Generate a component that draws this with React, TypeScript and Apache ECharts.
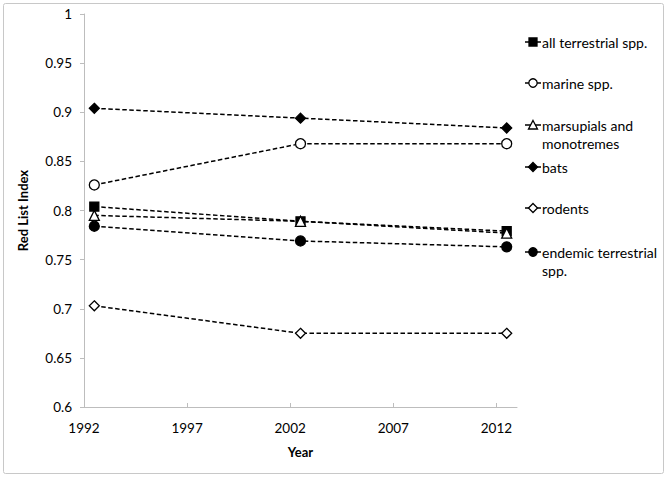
import React, { useEffect, useRef } from "react";
import * as echarts from "echarts";

const years = [1992.5, 2002.5, 2012.5];
const allTerrestrial = [0.804, 0.789, 0.779];
const marine = [0.826, 0.868, 0.868];
const marsupials = [0.795, 0.789, 0.777];
const bats = [0.904, 0.894, 0.884];
const rodents = [0.703, 0.675, 0.675];
const endemic = [0.784, 0.769, 0.763];
const xTickValues = [1992, 1997, 2002, 2007, 2012];

const seriesDefs = [
  { name: "all terrestrial spp.", legend: ["all terrestrial spp."], values: allTerrestrial, symbol: "rect", fill: "#000" },
  { name: "marine spp.", legend: ["marine spp."], values: marine, symbol: "circle", fill: "#fff" },
  { name: "marsupials and monotremes", legend: ["marsupials and", "monotremes"], values: marsupials, symbol: "triangle", fill: "#fff" },
  { name: "bats", legend: ["bats"], values: bats, symbol: "diamond", fill: "#000" },
  { name: "rodents", legend: ["rodents"], values: rodents, symbol: "diamond", fill: "#fff" },
  { name: "endemic terrestrial spp.", legend: ["endemic terrestrial", "spp."], values: endemic, symbol: "circle", fill: "#000" },
];

const FONT = "Lato, 'Open Sans', sans-serif";

function legendGraphics() {
  const ys = [42, 83, 125, 167, 208, 252];
  const els: any[] = [];
  seriesDefs.forEach((s, i) => {
    const y = ys[i];
    const cx = 533;
    els.push({
      type: "line",
      shape: { x1: 525, y1: y, x2: 541, y2: y },
      style: { stroke: "#000", lineWidth: 1.5 },
      z: 10,
    });
    const st = { fill: s.fill, stroke: "#000", lineWidth: 1.3 };
    if (s.symbol === "rect") {
      els.push({ type: "rect", shape: { x: cx - 4, y: y - 4, width: 8, height: 8 }, style: st, z: 11 });
    } else if (s.symbol === "circle") {
      els.push({ type: "circle", shape: { cx, cy: y, r: 4.2 }, style: st, z: 11 });
    } else if (s.symbol === "triangle") {
      els.push({ type: "polygon", shape: { points: [[cx, y - 4.5], [cx + 4.5, y + 4], [cx - 4.5, y + 4]] }, style: st, z: 11 });
    } else if (s.symbol === "diamond") {
      els.push({ type: "polygon", shape: { points: [[cx, y - 4.5], [cx + 4.5, y], [cx, y + 4.5], [cx - 4.5, y]] }, style: st, z: 11 });
    }
    els.push({
      type: "text",
      x: 542,
      y: y - 9,
      style: {
        text: s.legend.join("\n"),
        fontFamily: FONT,
        fontSize: 14,
        lineHeight: 18,
        fill: "#000",
        verticalAlign: "top",
        align: "left",
      },
      z: 11,
    });
  });
  return els;
}

export default function App() {
  const ref = useRef<HTMLDivElement>(null);
  useEffect(() => {
    if (!ref.current) return;
    const chart = echarts.init(ref.current, null, { renderer: "svg" });
    const option: any = {
      animation: false,
      backgroundColor: "#fff",
      grid: { left: 84, right: 150, top: 14, bottom: 70, containLabel: false },
      xAxis: {
        type: "value",
        min: 1992,
        max: 2013,
        name: "Year",
        nameLocation: "middle",
        nameGap: 38,
        nameTextStyle: { fontFamily: FONT, fontSize: 13, fontWeight: "bold", color: "#000" },
        axisLine: { show: true, lineStyle: { color: "#bdbdbd", width: 1 } },
        axisTick: { show: true, inside: true, length: 4, lineStyle: { color: "#bdbdbd" }, customValues: xTickValues },
        axisLabel: { fontFamily: FONT, fontSize: 13.5, color: "#000", margin: 14, customValues: xTickValues, formatter: (v: number) => String(v) },
        splitLine: { show: false },
      },
      yAxis: {
        type: "value",
        min: 0.6,
        max: 1,
        interval: 0.05,
        name: "Red List Index",
        nameLocation: "middle",
        nameGap: 55,
        nameRotate: 90,
        nameTextStyle: { fontFamily: FONT, fontSize: 13, fontWeight: "bold", color: "#000" },
        axisLine: { show: true, lineStyle: { color: "#bdbdbd", width: 1 } },
        axisTick: { show: true, inside: false, length: 4, lineStyle: { color: "#bdbdbd" } },
        axisLabel: {
          fontFamily: FONT,
          fontSize: 13.5,
          color: "#000",
          margin: 12,
          formatter: (v: number) => String(parseFloat(v.toFixed(2))),
        },
        splitLine: { show: false },
      },
      series: seriesDefs.map((s) => ({
        name: s.name,
        type: "line",
        data: years.map((x, i) => [x, s.values[i]]),
        symbol: s.symbol,
        symbolSize: s.symbol === "rect" ? 9 : 10,
        lineStyle: { color: "#000", width: 1.5, type: [4.5, 2.5] },
        itemStyle: { color: s.fill, borderColor: "#000", borderWidth: 1.3 },
      })),
      graphic: [
        {
          type: "rect",
          shape: { x: 3.5, y: 3.5, width: 660, height: 470, r: 2 },
          style: { fill: "none", stroke: "#c8c8c8", lineWidth: 1 },
          z: 0,
        },
        ...legendGraphics(),
      ],
    };
    chart.setOption(option);
    return () => chart.dispose();
  }, []);
  return <div ref={ref} style={{ position: "absolute", left: 0, top: 0, width: 667, height: 477 }} />;
}
